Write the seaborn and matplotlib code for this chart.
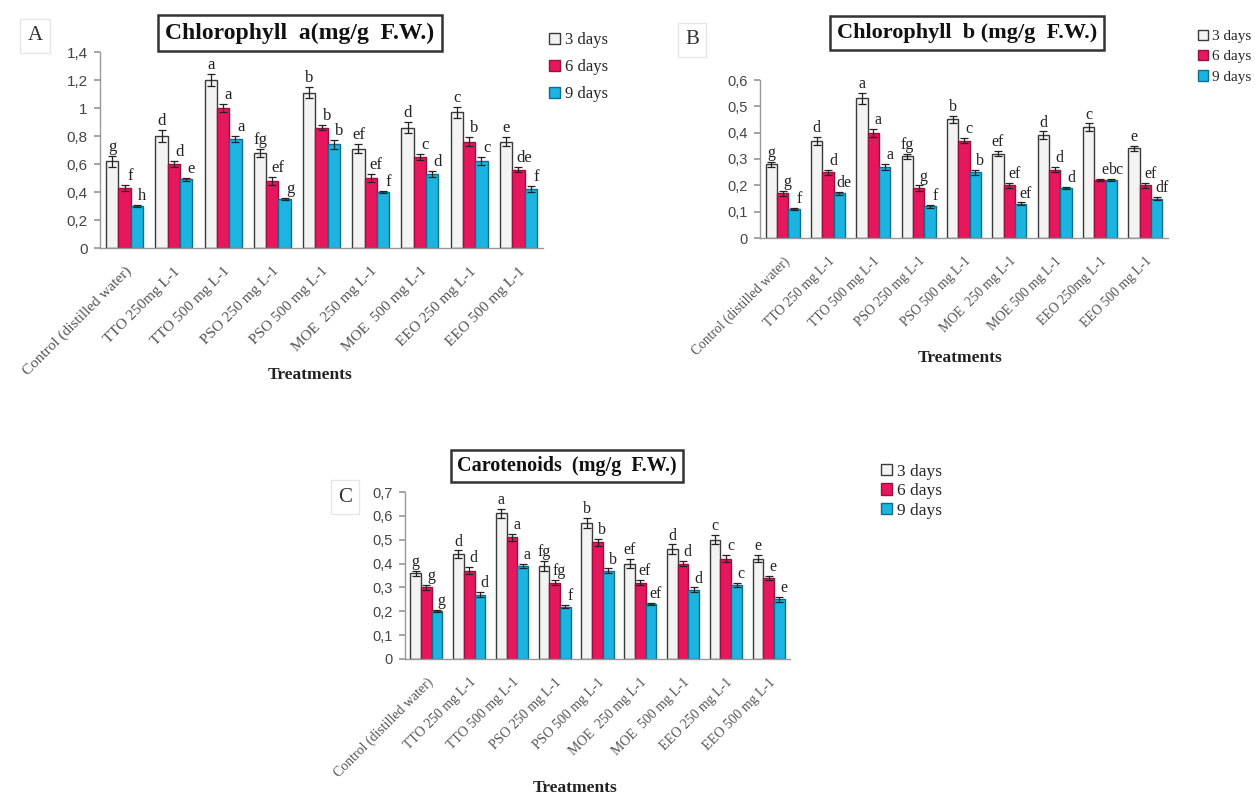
import matplotlib
matplotlib.use("Agg")
import matplotlib.pyplot as plt
from matplotlib.container import BarContainer
import seaborn as sns
import pandas as pd
import numpy as np

# ---------------- data ----------------
days = ["3 days", "6 days", "9 days"]

treat_A = ["Control (distilled water)", "TTO 250mg L-1", "TTO 500 mg L-1", "PSO 250 mg L-1",
           "PSO 500 mg L-1", "MOE  250 mg L-1", "MOE  500 mg L-1", "EEO 250 mg L-1", "EEO 500 mg L-1"]
treat_B = ["Control (distilled water)", "TTO 250 mg L-1", "TTO 500 mg L-1", "PSO 250 mg L-1",
           "PSO 500 mg L-1", "MOE  250 mg L-1", "MOE 500 mg L-1", "EEO 250mg L-1", "EEO 500 mg L-1"]
treat_C = ["Control (distilled water)", "TTO 250 mg L-1", "TTO 500 mg L-1", "PSO 250 mg L-1",
           "PSO 500 mg L-1", "MOE  250 mg L-1", "MOE  500 mg L-1", "EEO 250 mg L-1", "EEO 500 mg L-1"]

chla_3 = [0.62, 0.80, 1.20, 0.68, 1.11, 0.71, 0.86, 0.97, 0.76]
chla_6 = [0.43, 0.60, 1.00, 0.48, 0.86, 0.50, 0.65, 0.76, 0.56]
chla_9 = [0.30, 0.49, 0.78, 0.35, 0.74, 0.40, 0.53, 0.62, 0.42]
chla_err3 = [0.04, 0.04, 0.04, 0.03, 0.04, 0.03, 0.04, 0.04, 0.03]
chla_err6 = [0.02, 0.02, 0.03, 0.03, 0.02, 0.03, 0.02, 0.03, 0.02]
chla_err9 = [0.01, 0.01, 0.02, 0.01, 0.03, 0.01, 0.02, 0.03, 0.02]
chla_let3 = ["g", "d", "a", "fg", "b", "ef", "d", "c", "e"]
chla_let6 = ["f", "d", "a", "ef", "b", "ef", "c", "b", "de"]
chla_let9 = ["h", "e", "a", "g", "b", "f", "d", "c", "f"]

chlb_3 = [0.28, 0.37, 0.53, 0.31, 0.45, 0.32, 0.39, 0.42, 0.34]
chlb_6 = [0.17, 0.25, 0.40, 0.19, 0.37, 0.20, 0.26, 0.22, 0.20]
chlb_9 = [0.11, 0.17, 0.27, 0.12, 0.25, 0.13, 0.19, 0.22, 0.15]
chlb_err3 = [0.01, 0.015, 0.02, 0.01, 0.015, 0.01, 0.015, 0.015, 0.01]
chlb_err6 = [0.01, 0.01, 0.015, 0.01, 0.01, 0.01, 0.01, 0.005, 0.01]
chlb_err9 = [0.005, 0.005, 0.01, 0.005, 0.01, 0.005, 0.005, 0.005, 0.005]
chlb_let3 = ["g", "d", "a", "fg", "b", "ef", "d", "c", "e"]
chlb_let6 = ["g", "d", "a", "g", "c", "ef", "d", "e", "ef"]
chlb_let9 = ["f", "de", "a", "f", "b", "ef", "d", "bc", "df"]

car_3 = [0.36, 0.44, 0.61, 0.39, 0.57, 0.40, 0.46, 0.50, 0.42]
car_6 = [0.30, 0.37, 0.51, 0.32, 0.49, 0.32, 0.40, 0.42, 0.34]
car_9 = [0.20, 0.27, 0.39, 0.22, 0.37, 0.23, 0.29, 0.31, 0.25]
car_err3 = [0.01, 0.015, 0.02, 0.02, 0.02, 0.02, 0.02, 0.02, 0.015]
car_err6 = [0.01, 0.015, 0.015, 0.01, 0.015, 0.01, 0.01, 0.015, 0.01]
car_err9 = [0.005, 0.01, 0.01, 0.005, 0.01, 0.005, 0.01, 0.01, 0.01]
car_let3 = ["g", "d", "a", "fg", "b", "ef", "d", "c", "e"]
car_let6 = ["g", "d", "a", "fg", "b", "ef", "d", "c", "e"]
car_let9 = ["g", "d", "a", "f", "b", "ef", "d", "c", "e"]

yticks_A = [0, 0.2, 0.4, 0.6, 0.8, 1.0, 1.2, 1.4]
yticks_B = [0, 0.1, 0.2, 0.3, 0.4, 0.5, 0.6]
yticks_C = [0, 0.1, 0.2, 0.3, 0.4, 0.5, 0.6, 0.7]

# ---------------- style ----------------
sns.set_theme(style="white")
plt.rcParams["font.family"] = ["Liberation Serif", "DejaVu Serif"]

face = ["#f3f3f3", "#e6175c", "#1cb4e1"]
edge = ["#3a3a3a", "#9c0f40", "#0d6e8c"]
palette = dict(zip(days, face))

W, H = 1255.0, 798.0
fig = plt.figure(figsize=(12.55, 7.98), dpi=100)


def px_rect(x0, x1, ytop, ybot):
    return [x0 / W, 1 - ybot / H, (x1 - x0) / W, (ybot - ytop) / H]


def fx(x):
    return x / W


def fy(y):
    return 1 - y / H


def fmt(v):
    s = ("%g" % round(v, 2))
    return s.replace(".", ",")


def panel(rect, treats, vals, errs, lets, yticks, title, tpos, tsize, letter, lpos,
          legpos, legsize, legspace, xlab_pos, xtsize, ytsize, letsize):
    ax = fig.add_axes(rect)
    rows = []
    for d, v in zip(days, vals):
        for t, x in zip(treats, v):
            rows.append({"Treatment": t, "Day": d, "value": x})
    df = pd.DataFrame(rows)
    sns.barplot(data=df, x="Treatment", y="value", hue="Day", order=treats,
                hue_order=days, palette=palette, saturation=1, errorbar=None,
                width=0.75, gap=0, ax=ax, legend=False)
    bars = [c for c in ax.containers if isinstance(c, BarContainer)]
    for k, cont in enumerate(bars):
        for j, p in enumerate(cont.patches):
            p.set_edgecolor(edge[k])
            p.set_linewidth(1.0)
            cx = p.get_x() + p.get_width() / 2
            h = p.get_height()
            ax.errorbar(cx, h, yerr=errs[k][j], fmt="none", ecolor="#222",
                        elinewidth=0.9, capsize=3, capthick=0.9)
            dx = 0.0 if k == 0 else 0.11
            ax.text(cx + dx, h + errs[k][j] + yticks[-1] * 0.005, lets[k][j],
                    ha="center", va="bottom", fontsize=letsize, color="#222")
    ax.set_ylim(0, yticks[-1])
    ax.set_xlim(-0.5, len(treats) - 0.5)
    ax.set_yticks(yticks)
    ax.set_yticklabels([fmt(v) for v in yticks], family="Liberation Sans",
                       fontsize=ytsize, color="#444")
    ax.set_xticks(range(len(treats)))
    ax.set_xticklabels(treats, rotation=45, ha="right", rotation_mode="anchor",
                       fontsize=xtsize, color="#555")
    ax.set_xticks(np.arange(-0.5, len(treats), 1.0), minor=True)
    ax.tick_params(axis="x", which="major", length=0, pad=12)
    ax.tick_params(axis="x", which="minor", length=4, color="#999", direction="out")
    ax.tick_params(axis="y", length=4, color="#999", direction="out", left=True, pad=5)
    for s in ["top", "right"]:
        ax.spines[s].set_visible(False)
    for s in ["left", "bottom"]:
        ax.spines[s].set_color("#999")
        ax.spines[s].set_linewidth(1.0)
    ax.set_xlabel("")
    ax.set_ylabel("")
    fig.text(fx(xlab_pos[0]), fy(xlab_pos[1]), "Treatments", ha="center", va="center",
             fontsize=12.5, fontweight="bold", color="#222")
    fig.text(fx(tpos[0]), fy(tpos[1]), title, ha="center", va="center", fontsize=tsize,
             fontweight="bold", color="#111",
             bbox=dict(boxstyle="square,pad=0.3", fc="white", ec="#333", lw=1.8))
    fig.text(fx(lpos[0]), fy(lpos[1]), letter, ha="center", va="center", fontsize=15,
             color="#333",
             bbox=dict(boxstyle="square,pad=0.35", fc="white", ec="#e6e6e6", lw=1))
    handles = [c.patches[0] for c in bars]
    fig.legend(handles=handles, labels=days, loc="upper left",
               bbox_to_anchor=(fx(legpos[0]), fy(legpos[1])), frameon=False,
               fontsize=legsize, handlelength=0.65, handleheight=0.65,
               handletextpad=0.3, labelspacing=legspace, borderpad=0)
    return ax


panel(px_rect(100, 543, 52, 248), treat_A,
      [chla_3, chla_6, chla_9], [chla_err3, chla_err6, chla_err9],
      [chla_let3, chla_let6, chla_let9], yticks_A,
      "Chlorophyll  a(mg/g  F.W.)", (300, 33), 17, "A", (35, 36),
      (541, 24), 12, 0.65, (310, 375), 11, 11, 12)

panel(px_rect(760, 1168, 80, 238), treat_B,
      [chlb_3, chlb_6, chlb_9], [chlb_err3, chlb_err6, chlb_err9],
      [chlb_let3, chlb_let6, chlb_let9], yticks_B,
      "Chlorophyll  b (mg/g  F.W.)", (967, 33), 16, "B", (692, 40),
      (1190, 22), 11, 0.45, (960, 358), 9.8, 10.5, 11.5)

panel(px_rect(405, 790, 492, 659), treat_C,
      [car_3, car_6, car_9], [car_err3, car_err6, car_err9],
      [car_let3, car_let6, car_let9], yticks_C,
      "Carotenoids  (mg/g  F.W.)", (567, 466), 14.5, "C", (345, 497),
      (872, 455), 12.5, 0.2, (575, 788), 10, 10.5, 11.5)

fig.savefig("out.png", dpi=100)
